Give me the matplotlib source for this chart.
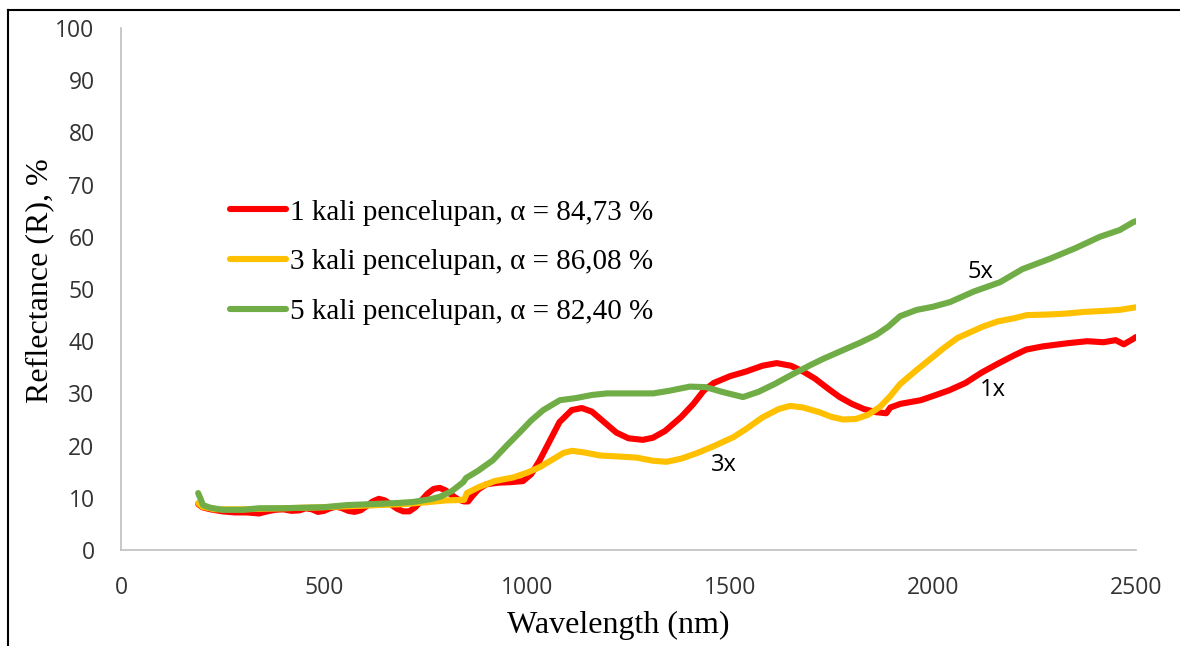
#!/usr/bin/env python3

import matplotlib
matplotlib.use("Agg")
import matplotlib.pyplot as plt
from matplotlib.lines import Line2D

# 1 kali pencelupan (red)
wl_1x = [190, 200, 220, 250, 280, 310, 340, 360, 380, 400, 420, 440, 455, 470,
         485, 500, 515, 530, 545, 560, 575, 590, 605, 620, 635, 650, 665, 680,
         695, 710, 725, 740, 755, 770, 785, 800, 815, 830, 845, 855, 865, 880,
         900, 930, 960, 990, 1010, 1030, 1050, 1080, 1110, 1135, 1160,
         1190, 1220, 1250, 1285, 1310, 1340, 1380, 1410, 1435, 1460, 1500,
         1540, 1580, 1615, 1650, 1680, 1710, 1740, 1770, 1800, 1830, 1860,
         1885, 1895, 1920, 1970, 2000, 2040, 2080, 2120, 2160, 2200, 2230,
         2270, 2330, 2380, 2420, 2450, 2470, 2490, 2500]
r_1x = [8.8, 8.2, 7.8, 7.4, 7.2, 7.2, 7.0, 7.4, 7.7, 7.8, 7.5, 7.6, 8.0, 7.8,
        7.3, 7.5, 8.0, 8.3, 8.0, 7.5, 7.3, 7.6, 8.4, 9.3, 9.8, 9.5, 8.7, 7.9,
        7.4, 7.4, 8.2, 9.5, 10.8, 11.7, 11.9, 11.4, 10.5, 9.7, 9.3, 9.3, 10.3,
        11.6, 12.6, 12.9, 13.0, 13.2, 14.5, 17.0, 20.0, 24.5, 26.8, 27.2,
        26.5, 24.5, 22.5, 21.4, 21.1, 21.5, 22.8, 25.5, 28.0, 30.5, 32.0,
        33.3, 34.2, 35.3, 35.8, 35.3, 34.2, 32.8, 31.0, 29.3, 28.0, 27.0,
        26.4, 26.2, 27.3, 28.0, 28.7, 29.5, 30.6, 32.0, 34.0, 35.7, 37.3,
        38.4, 39.0, 39.6, 40.0, 39.8, 40.2, 39.4, 40.3, 40.8]

# 3 kali pencelupan (yellow)
wl_3x = [190, 200, 230, 300, 400, 500, 600, 700, 760, 800, 845, 852, 880, 920,
         966, 1000, 1032, 1060, 1090, 1111, 1140, 1180, 1229, 1270, 1310,
         1344, 1380, 1420, 1460, 1508, 1540, 1580, 1620, 1648, 1680, 1720,
         1750, 1779, 1810, 1840, 1869, 1895, 1919, 1960, 2000, 2025, 2060,
         2100, 2123, 2160, 2200, 2231, 2280, 2330, 2370, 2420, 2460, 2500]
r_3x = [9.0, 8.3, 7.8, 7.8, 8.0, 8.2, 8.5, 8.8, 9.2, 9.5, 9.6, 10.9, 12.0,
        13.2, 13.9, 14.8, 15.9, 17.2, 18.6, 19.0, 18.7, 18.1, 17.9, 17.7,
        17.1, 16.9, 17.5, 18.6, 19.9, 21.6, 23.2, 25.4, 27.0, 27.6, 27.3,
        26.4, 25.5, 25.0, 25.1, 25.9, 27.4, 29.5, 31.8, 34.5, 37.0, 38.6,
        40.6, 42.0, 42.8, 43.8, 44.4, 45.0, 45.1, 45.3, 45.6, 45.8, 46.0, 46.5]

# 5 kali pencelupan (green)
wl_5x = [190, 195, 202, 220, 251, 300, 342, 400, 450, 500, 556, 620, 680, 719,
         760, 786, 815, 843, 850, 880, 916, 950, 983, 1010, 1040, 1081, 1120,
         1160, 1197, 1250, 1311, 1350, 1401, 1440, 1480, 1532, 1570, 1610,
         1655, 1700, 1729, 1770, 1820, 1860, 1890, 1919, 1960, 2000, 2042,
         2100, 2165, 2220, 2288, 2350, 2411, 2460, 2493, 2500]
r_5x = [10.9, 10.0, 8.6, 8.1, 7.7, 7.7, 8.0, 8.0, 8.1, 8.2, 8.6, 8.8, 9.0, 9.2,
        9.7, 10.2, 11.3, 13.0, 13.8, 15.2, 17.2, 20.0, 22.6, 24.8, 26.8, 28.7,
        29.1, 29.7, 30.0, 30.0, 30.0, 30.5, 31.3, 31.2, 30.3, 29.3, 30.3,
        31.8, 33.7, 35.5, 36.6, 38.0, 39.7, 41.2, 42.8, 44.8, 46.0, 46.6,
        47.5, 49.5, 51.3, 53.8, 55.8, 57.8, 60.0, 61.3, 62.8, 63.0]

labels = ['1 kali pencelupan, α = 84,73 %',
          '3 kali pencelupan, α = 86,08 %',
          '5 kali pencelupan, α = 82,40 %']
colors = ['#FF0000', '#FFC000', '#70AD47']
x_ticks = [0, 500, 1000, 1500, 2000, 2500]
y_ticks = [0, 10, 20, 30, 40, 50, 60, 70, 80, 90, 100]

fig = plt.figure(figsize=(11.8, 6.46), dpi=100)
ax = fig.add_axes([121 / 1180, 1 - 550 / 646, 1015 / 1180, 522 / 646])

series = [(wl_1x, r_1x), (wl_3x, r_3x), (wl_5x, r_5x)]
for (wl, r), lab, col in zip(series, labels, colors):
    ax.plot(wl, r, color=col, lw=4.4, label=lab,
            solid_joinstyle='round', solid_capstyle='round')

ax.set_xlim(0, 2500)
ax.set_ylim(0, 100)
ax.set_xticks(x_ticks)
ax.set_yticks(y_ticks)
for s in ['top', 'right']:
    ax.spines[s].set_visible(False)
for s in ['left', 'bottom']:
    ax.spines[s].set_color('#BFBFBF')
    ax.spines[s].set_linewidth(1.2)
ax.tick_params(length=0, pad=19, labelsize=16.5, labelcolor='#333333')
for t in ax.get_xticklabels() + ax.get_yticklabels():
    t.set_fontfamily('Open Sans')

ax.set_xlabel('Wavelength (nm)', family='Liberation Serif', fontsize=23)
ax.xaxis.set_label_coords(0.49, -0.144)
ax.xaxis.label.set_verticalalignment('center')
ax.set_ylabel('Reflectance (R), %', family='Liberation Serif', fontsize=23)
ax.yaxis.set_label_coords(-0.080, 0.517)
ax.yaxis.label.set_verticalalignment('center')

leg = ax.legend(loc='upper left', bbox_to_anchor=(0.0926, 0.700),
                frameon=False, borderpad=0, handlelength=1.93,
                handletextpad=0.14, labelspacing=0.8,
                prop={'family': 'Liberation Serif', 'size': 21})

# series annotations
ax.text(2116, 53.3, '5x', family='Open Sans', fontsize=17, ha='center', va='center')
ax.text(2148, 30.7, '1x', family='Open Sans', fontsize=17, ha='center', va='center')
ax.text(1485, 16.3, '3x', family='Open Sans', fontsize=17, ha='center', va='center')

# outer frame (left and top edges visible)
fig.add_artist(Line2D([8 / 1180, 8 / 1180], [0, 1 - 10 / 646],
                      transform=fig.transFigure, color='black', lw=1.5))
fig.add_artist(Line2D([8 / 1180, 1], [1 - 10 / 646, 1 - 10 / 646],
                      transform=fig.transFigure, color='black', lw=1.5))

fig.savefig('out.png', dpi=100)
